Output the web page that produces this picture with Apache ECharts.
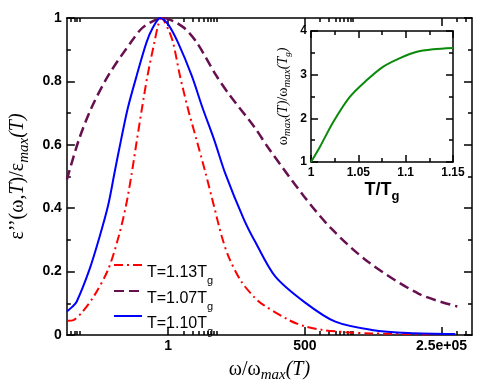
<!DOCTYPE html>
<html>
<head>
<meta charset="utf-8">
<script src="https://cdn.jsdelivr.net/npm/echarts@6/dist/echarts.min.js"></script>
<style>html,body{margin:0;padding:0;background:#fff}#c{width:502px;height:388px}</style>
</head>
<body>
<div id="c"></div>
<script>
// ---- data ----
const xMin = 0.01, xMax = 1e6;
const xTickValues = [1, 500, 250000];
const xTickLabels = ['1', '500', '2.5e+05'];
const xMinorTicks = [0.012, 0.014, 0.016, 0.018, 2, 3, 4, 5, 6, 7, 8, 9,
  1000, 1500, 2000, 2500, 3000, 3500, 4000, 4500, 500000, 750000];

const seriesNames = ['T=1.13Tg', 'T=1.07Tg', 'T=1.10Tg'];

const redX = [0.0105, 0.0135, 0.02, 0.035, 0.0655, 0.105, 0.148, 0.191, 0.241, 0.305, 0.391, 0.535, 0.63, 0.74,
  1.0, 1.25, 1.71, 2.44, 3.66, 5.5, 7.94, 11.5, 15.8, 27.5, 51, 75.9, 251, 480, 1122, 3160, 10000, 200000];
const redY = [0.045, 0.047, 0.072, 0.125, 0.207, 0.31, 0.41, 0.51, 0.614, 0.716, 0.818, 0.923, 0.975, 1.0,
  0.965, 0.923, 0.818, 0.716, 0.614, 0.51, 0.41, 0.31, 0.245, 0.17, 0.118, 0.095, 0.046, 0.028, 0.016, 0.009, 0.005, 0.002];

const purpleX = [0.01, 0.0171, 0.0305, 0.0655, 0.183, 0.327, 0.794, 1.95, 3.66, 8.93, 15.8, 51, 95.5,
  479, 1660, 8710, 89000, 513000];
const purpleY = [0.49, 0.614, 0.716, 0.818, 0.923, 0.972, 1.0, 0.972, 0.923, 0.818, 0.76, 0.655, 0.59,
  0.438, 0.336, 0.232, 0.13, 0.09];

const blueX = [0.01, 0.0126, 0.0156, 0.028, 0.0443, 0.0655, 0.0881, 0.117, 0.16, 0.239, 0.374, 0.5, 0.70, 1.0, 1.56,
  2.92, 4.79, 8.18, 13.4, 31.3, 54, 130, 500, 2000, 10500, 55000, 470000];
const blueY = [0.074, 0.088, 0.105, 0.207, 0.31, 0.41, 0.515, 0.614, 0.716, 0.818, 0.923, 0.97, 1.0, 0.98, 0.923,
  0.818, 0.716, 0.614, 0.51, 0.365, 0.29, 0.185, 0.103, 0.042, 0.016, 0.006, 0.003];

const greenX = [1, 1.0095, 1.0235, 1.041, 1.0587, 1.076, 1.094, 1.111, 1.129, 1.15];
const greenY = [1, 1.35, 1.916, 2.49, 2.87, 3.18, 3.38, 3.52, 3.58, 3.61];

// ---- helpers ----
const zip = (xs, ys) => xs.map((x, i) => [x, ys[i]]);
const black = '#000';
const SANS = 'Liberation Sans';
const SERIF = 'Liberation Serif';

function logAxis(pos, values, len, labels) {
  return {
    type: 'log', logBase: 10, gridIndex: 0, min: xMin, max: xMax, position: pos,
    axisLine: { show: len === 8, lineStyle: { color: black, width: 1.5 } },
    axisTick: { show: true, inside: true, length: len, customValues: values, lineStyle: { color: black, width: 1.5 } },
    axisLabel: labels ? {
      show: true, customValues: values, margin: 4, color: black,
      fontFamily: SANS, fontWeight: 'bold', fontSize: 14,
      formatter: function (v) {
        for (let i = 0; i < xTickValues.length; i++) {
          if (Math.abs(v / xTickValues[i] - 1) < 1e-6) return xTickLabels[i];
        }
        return '';
      }
    } : { show: false },
    splitLine: { show: false }, minorTick: { show: false }, minorSplitLine: { show: false }
  };
}

function valAxis(grid, pos, min, max, interval, labels, len, fs, margin) {
  return {
    type: 'value', gridIndex: grid, position: pos, min: min, max: max, interval: interval,
    axisLine: { show: true, lineStyle: { color: black, width: 1.5 } },
    axisTick: { show: true, inside: true, length: len, lineStyle: { color: black, width: 1.5 } },
    minorTick: { show: true, splitNumber: 2, length: 4, lineStyle: { color: black, width: 1.5 } },
    axisLabel: labels ? { show: true, margin: margin, color: black, fontFamily: SANS, fontWeight: 'bold', fontSize: fs } : { show: false },
    splitLine: { show: false }, minorSplitLine: { show: false }
  };
}

const xMain = logAxis('bottom', xTickValues, 8, true);
xMain.name = '{n|ω/ω}{s|max}{i|(T)}';
xMain.nameLocation = 'middle';
xMain.nameGap = 21;
xMain.nameTextStyle = {
  color: black,
  rich: {
    n: { fontFamily: SERIF, fontSize: 20, color: black },
    i: { fontFamily: SERIF, fontStyle: 'italic', fontSize: 20, color: black },
    s: { fontFamily: SERIF, fontStyle: 'italic', fontSize: 15, color: black, padding: [12, 0, 0, 0] }
  }
};

const yMain = valAxis(0, 'left', 0, 1, 0.2, true, 8, 14, 5);
yMain.name = '{n|ε’’(ω,}{i|T}{n|)/ε}{s|max}{i|(T)}';
yMain.nameLocation = 'middle';
yMain.nameGap = 32;
yMain.nameTextStyle = {
  color: black,
  rich: {
    n: { fontFamily: SERIF, fontSize: 20, color: black },
    i: { fontFamily: SERIF, fontStyle: 'italic', fontSize: 20, color: black },
    s: { fontFamily: SERIF, fontStyle: 'italic', fontSize: 15, color: black, padding: [12, 0, 0, 0] }
  }
};

const xInset = valAxis(1, 'bottom', 1, 1.15, 0.05, true, 7, 12, 5);
xInset.name = '{b|T/T}{g|g}';
xInset.nameLocation = 'middle';
xInset.nameGap = 16;
xInset.nameTextStyle = {
  rich: {
    b: { fontFamily: SANS, fontWeight: 'bold', fontSize: 18, color: black },
    g: { fontFamily: SANS, fontWeight: 'bold', fontSize: 13, color: black, padding: [12, 0, 0, 0] }
  }
};
const yInset = valAxis(1, 'left', 1, 4, 1, true, 7, 12, 4);
yInset.name = '{n|ω}{s|max}{i|(T)}{n|/ω}{s|max}{i|(T}{ss|g}{i|)}';
yInset.nameLocation = 'middle';
yInset.nameGap = 18;
yInset.nameTextStyle = {
  rich: {
    n: { fontFamily: SERIF, fontSize: 14, color: black },
    i: { fontFamily: SERIF, fontStyle: 'italic', fontSize: 14, color: black },
    s: { fontFamily: SERIF, fontStyle: 'italic', fontSize: 11, color: black, padding: [8, 0, 0, 0] },
    ss: { fontFamily: SERIF, fontStyle: 'italic', fontSize: 9, color: black, padding: [9, 0, 0, 0] }
  }
};

// one legend block per entry, stacked at the reference row positions
const P = 16;
const legendRows = [275, 301, 326];
const legends = seriesNames.map((nm, i) => ({
  show: true, orient: 'vertical', left: 108, top: legendRows[i] - (P + 9),
  itemWidth: 28, itemHeight: 14, selectedMode: false,
  itemStyle: { opacity: 0 },
  data: [nm],
  formatter: function (name) {
    return '{e| }\n{t|' + name.slice(0, -1) + '}{g|' + name.slice(-1) + '}';
  },
  textStyle: {
    rich: {
      e: { fontSize: 2, lineHeight: P },
      t: { fontFamily: SANS, fontSize: 16, lineHeight: 18, color: black },
      g: { fontFamily: SANS, fontSize: 11, lineHeight: 18, color: black, padding: [P, 0, 0, 0] }
    }
  }
}));

const option = {
  backgroundColor: '#fff',
  animation: false,
  grid: [
    { left: 60, top: 18, width: 412, height: 324, containLabel: false },
    { left: 311, top: 31, width: 142, height: 131, containLabel: false }
  ],
  legend: legends,
  xAxis: [
    xMain,
    logAxis('bottom', xMinorTicks, 4, false),
    logAxis('top', xTickValues, 8, false),
    logAxis('top', xMinorTicks, 4, false),
    xInset,
    valAxis(1, 'top', 1, 1.15, 0.05, false, 7, 12, 5)
  ],
  yAxis: [
    yMain,
    valAxis(0, 'right', 0, 1, 0.2, false, 8, 14, 5),
    yInset,
    valAxis(1, 'right', 1, 4, 1, false, 7, 12, 4)
  ],
  series: [
    {
      name: seriesNames[0], type: 'line', xAxisIndex: 0, yAxisIndex: 0, symbol: 'none', smooth: 0.3,
      data: zip(redX, redY), z: 3,
      lineStyle: { color: '#ff0000', width: 2, type: [9, 4, 2, 4] }, itemStyle: { color: '#ff0000' }
    },
    {
      name: seriesNames[1], type: 'line', xAxisIndex: 0, yAxisIndex: 0, symbol: 'none', smooth: 0.3,
      data: zip(purpleX, purpleY), z: 2,
      lineStyle: { color: '#66104f', width: 2.5, type: [10, 5] }, itemStyle: { color: '#66104f' }
    },
    {
      name: seriesNames[2], type: 'line', xAxisIndex: 0, yAxisIndex: 0, symbol: 'none', smooth: 0.3,
      data: zip(blueX, blueY), z: 4,
      lineStyle: { color: '#0000ff', width: 2 }, itemStyle: { color: '#0000ff' }
    },
    {
      name: 'inset', type: 'line', xAxisIndex: 4, yAxisIndex: 2, symbol: 'none', smooth: 0.3,
      data: zip(greenX, greenY),
      lineStyle: { color: '#0a8a0a', width: 2 }, itemStyle: { color: '#0a8a0a' }
    }
  ]
};

const chart = echarts.init(document.getElementById('c'), null, { renderer: 'canvas' });
chart.setOption(option);
</script>
</body>
</html>
